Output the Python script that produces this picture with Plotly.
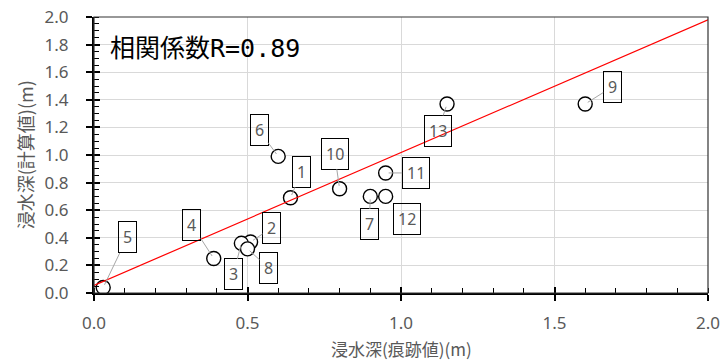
import plotly.graph_objects as go

# Observed (trace) vs computed inundation depth at each survey point
point_ids = ["1", "2", "3", "4", "5", "6", "7", "8", "9", "10", "11", "12", "13"]
trace_depth = [0.64, 0.51, 0.48, 0.39, 0.03, 0.60, 0.90, 0.50, 1.60, 0.80, 0.95, 0.95, 1.15]
calc_depth = [0.69, 0.37, 0.36, 0.25, 0.04, 0.99, 0.70, 0.32, 1.37, 0.755, 0.87, 0.70, 1.37]

# Trend line end points
trend_x = [0.0, 2.0]
trend_y = [0.055, 1.98]

corr_text = "相関係数R=0.89"
x_title = "浸水深(痕跡値)(m)"
y_title = "浸水深(計算値)(m)"

# Pixel offsets of each label box from its point (ax, ay)
label_offsets = [(11, -26), (21, -14), (-8, 31), (-22, -34), (24, -50), (-19, -26),
                 (-1, 28), (21, 19), (27, -17), (-5, -35), (30, 0), (21, 23), (-9, 27)]

TICK_FONT = dict(family="Noto Sans, Noto Sans CJK JP", size=17, color="#595959")
JP_FONT = "Noto Sans CJK JP"

fig = go.Figure()

fig.add_trace(go.Scatter(
    x=trace_depth, y=calc_depth, mode="markers",
    marker=dict(size=14, color="white", line=dict(color="black", width=1.4)),
    showlegend=False, hoverinfo="skip",
))

fig.add_trace(go.Scatter(
    x=trend_x, y=trend_y, mode="lines",
    line=dict(color="#ff0000", width=1.2),
    showlegend=False, hoverinfo="skip",
))

# Invisible trace on overlay axes that carry the inner half of the major ticks
fig.add_trace(go.Scatter(x=[None], y=[None], xaxis="x2", yaxis="y2",
                         showlegend=False, hoverinfo="skip"))

annotations = []
for pid, xv, yv, (ox, oy) in zip(point_ids, trace_depth, calc_depth, label_offsets):
    annotations.append(dict(
        x=xv, y=yv, xref="x", yref="y", text=pid,
        showarrow=True, arrowhead=0, arrowwidth=1, arrowcolor="#a6a6a6",
        ax=ox, ay=oy, standoff=3,
        bordercolor="black", borderwidth=1, borderpad=4,
        bgcolor="rgba(0,0,0,0)",
        font=dict(family="Noto Sans", size=16, color="#595959"),
    ))

annotations.append(dict(
    x=0.0228, y=0.885, xref="paper", yref="paper", xanchor="left", yanchor="middle",
    text=corr_text, showarrow=False,
    font=dict(family="DejaVu Sans Mono, " + JP_FONT, size=25, color="black"),
))

# Axis titles
annotations.append(dict(
    x=0.5, y=-0.2, xref="paper", yref="paper", xanchor="center", yanchor="middle",
    text=x_title, showarrow=False,
    font=dict(family=JP_FONT, size=17, color="#595959"),
))
annotations.append(dict(
    x=-0.112, y=0.5, xref="paper", yref="paper", xanchor="center", yanchor="middle",
    text=y_title, showarrow=False, textangle=-90,
    font=dict(family=JP_FONT, size=18, color="#595959"),
))

fig.update_layout(
    width=720, height=361,
    margin=dict(l=94, r=12, t=17, b=68),
    paper_bgcolor="white", plot_bgcolor="white",
    annotations=annotations,
    shapes=[dict(type="rect", xref="paper", yref="paper", x0=0, x1=1, y0=0, y1=1,
                 line=dict(color="#333333", width=1.2), layer="above")],
    xaxis=dict(
        range=[0, 2], dtick=0.5, tick0=0, tickformat=".1f", automargin=False,
        showgrid=True, gridcolor="#d9d9d9", gridwidth=1, zeroline=False,
        showline=True, linecolor="black", linewidth=2,
        ticks="outside", ticklen=6, tickwidth=1.5, tickcolor="black",
        minor=dict(dtick=0.1, ticks="inside", ticklen=5, tickwidth=1, tickcolor="black", showgrid=False),
        tickfont=TICK_FONT, ticklabelstandoff=8, ticklabeloverflow="allow",
    ),
    yaxis=dict(
        range=[0, 2], dtick=0.2, tick0=0, tickformat=".1f", automargin=False,
        showgrid=True, gridcolor="#d9d9d9", gridwidth=1, zeroline=False,
        showline=True, linecolor="black", linewidth=2,
        ticks="outside", ticklen=6, tickwidth=1.5, tickcolor="black",
        minor=dict(dtick=0.05, ticks="inside", ticklen=5, tickwidth=1, tickcolor="black", showgrid=False),
        tickfont=TICK_FONT, ticklabelstandoff=14, ticklabeloverflow="allow",
    ),
    xaxis2=dict(
        overlaying="x", anchor="y2", range=[0, 2], dtick=0.5, tick0=0, automargin=False,
        showgrid=False, zeroline=False, showline=False, showticklabels=False,
        ticks="inside", ticklen=6, tickwidth=1.5, tickcolor="black",
    ),
    yaxis2=dict(
        overlaying="y", anchor="x2", range=[0, 2], dtick=0.2, tick0=0, automargin=False,
        showgrid=False, zeroline=False, showline=False, showticklabels=False,
        ticks="inside", ticklen=6, tickwidth=1.5, tickcolor="black",
    ),
)

fig.write_html("out.html")
